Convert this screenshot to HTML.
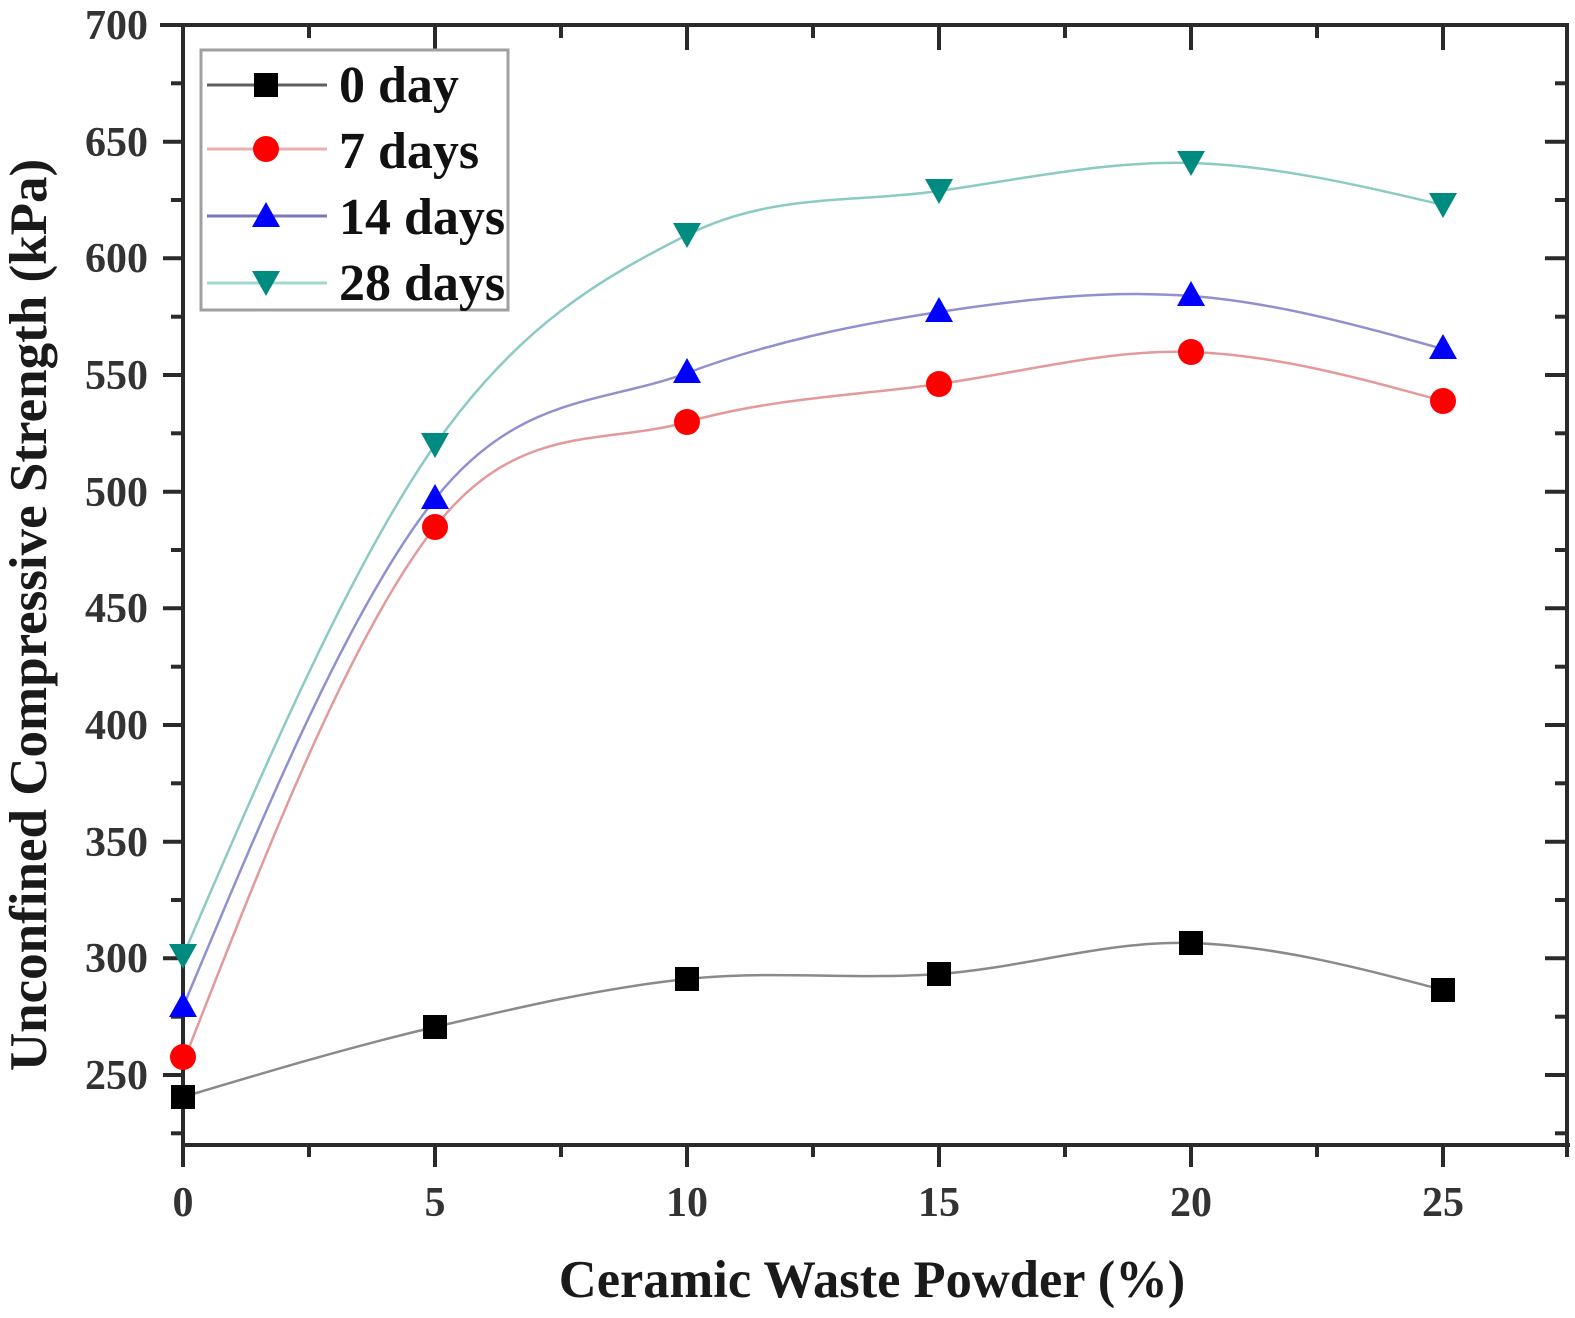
<!DOCTYPE html>
<html>
<head>
<meta charset="utf-8">
<style>
  html, body { margin: 0; padding: 0; background: #ffffff; }
  body { width: 1575px; height: 1318px; overflow: hidden; }
  svg { display: block; }
  text { font-family: "Liberation Serif", "Times New Roman", serif; font-weight: bold; }
</style>
</head>
<body>
<svg width="1575" height="1318" viewBox="0 0 1575 1318" xmlns="http://www.w3.org/2000/svg">
  <rect x="0" y="0" width="1575" height="1318" fill="#ffffff"/>

  <!-- Curves -->
  <g fill="none" stroke-width="2.5">
    <path stroke="#8a8a8a" d="M183,1097 C267,1071.8 351,1046.7 435,1027 C519,1007.3 603,987.8 687,979 C771,970.2 855,980 939,974 C1023,968 1107,940.3 1191,943 C1275,945.7 1359,967.8 1443,990"/>
    <path stroke="#e29a9a" d="M183,1063 C267,848.4 351,633.8 435,527 C519,420.2 603,445.8 687,422 C771,398.2 855,395.7 939,384 C1023,372.3 1107,349.2 1191,352 C1275,354.8 1359,377.9 1443,401"/>
    <path stroke="#9090d0" d="M183,1007 C267,805.8 351,604.7 435,499 C519,393.3 603,404.2 687,373 C771,341.8 855,324.8 939,312 C1023,299.2 1107,289.8 1191,296 C1275,302.2 1359,325.6 1443,349"/>
    <path stroke="#8ccac4" d="M183,956 C267,760.6 351,565.2 435,445 C519,324.8 603,277.3 687,235 C771,192.7 855,203 939,191 C1023,179 1107,160.7 1191,163 C1275,165.3 1359,185.2 1443,205"/>
  </g>

  <!-- Axes frame -->
  <g stroke="#2a2a2a" stroke-width="4" fill="none">
    <line x1="160" y1="25" x2="1568" y2="25"/>
    <line x1="183" y1="23" x2="183" y2="1167"/>
    <line x1="181" y1="1145" x2="1570" y2="1145"/>
    <line x1="1567" y1="23" x2="1567" y2="1157"/>
  </g>

  <!-- Left axis ticks (outward) -->
  <g stroke="#2a2a2a" stroke-width="4">
    <line x1="163" y1="1075" x2="183" y2="1075"/>
    <line x1="163" y1="958.3" x2="183" y2="958.3"/>
    <line x1="163" y1="841.7" x2="183" y2="841.7"/>
    <line x1="163" y1="725" x2="183" y2="725"/>
    <line x1="163" y1="608.3" x2="183" y2="608.3"/>
    <line x1="163" y1="491.7" x2="183" y2="491.7"/>
    <line x1="163" y1="375" x2="183" y2="375"/>
    <line x1="163" y1="258.3" x2="183" y2="258.3"/>
    <line x1="163" y1="141.7" x2="183" y2="141.7"/>
    <line x1="171" y1="1133.3" x2="183" y2="1133.3"/>
    <line x1="171" y1="1016.7" x2="183" y2="1016.7"/>
    <line x1="171" y1="900" x2="183" y2="900"/>
    <line x1="171" y1="783.3" x2="183" y2="783.3"/>
    <line x1="171" y1="666.7" x2="183" y2="666.7"/>
    <line x1="171" y1="550" x2="183" y2="550"/>
    <line x1="171" y1="433.3" x2="183" y2="433.3"/>
    <line x1="171" y1="316.7" x2="183" y2="316.7"/>
    <line x1="171" y1="200" x2="183" y2="200"/>
    <line x1="171" y1="83.3" x2="183" y2="83.3"/>
  </g>

  <!-- Right axis ticks (inward) -->
  <g stroke="#2a2a2a" stroke-width="4">
    <line x1="1545" y1="1075" x2="1567" y2="1075"/>
    <line x1="1545" y1="958.3" x2="1567" y2="958.3"/>
    <line x1="1545" y1="841.7" x2="1567" y2="841.7"/>
    <line x1="1545" y1="725" x2="1567" y2="725"/>
    <line x1="1545" y1="608.3" x2="1567" y2="608.3"/>
    <line x1="1545" y1="491.7" x2="1567" y2="491.7"/>
    <line x1="1545" y1="375" x2="1567" y2="375"/>
    <line x1="1545" y1="258.3" x2="1567" y2="258.3"/>
    <line x1="1545" y1="141.7" x2="1567" y2="141.7"/>
    <line x1="1555" y1="1133.3" x2="1567" y2="1133.3"/>
    <line x1="1555" y1="1016.7" x2="1567" y2="1016.7"/>
    <line x1="1555" y1="900" x2="1567" y2="900"/>
    <line x1="1555" y1="783.3" x2="1567" y2="783.3"/>
    <line x1="1555" y1="666.7" x2="1567" y2="666.7"/>
    <line x1="1555" y1="550" x2="1567" y2="550"/>
    <line x1="1555" y1="433.3" x2="1567" y2="433.3"/>
    <line x1="1555" y1="316.7" x2="1567" y2="316.7"/>
    <line x1="1555" y1="200" x2="1567" y2="200"/>
    <line x1="1555" y1="83.3" x2="1567" y2="83.3"/>
  </g>

  <!-- Bottom axis ticks (outward) -->
  <g stroke="#2a2a2a" stroke-width="4">
    <line x1="435" y1="1145" x2="435" y2="1167"/>
    <line x1="687" y1="1145" x2="687" y2="1167"/>
    <line x1="939" y1="1145" x2="939" y2="1167"/>
    <line x1="1191" y1="1145" x2="1191" y2="1167"/>
    <line x1="1443" y1="1145" x2="1443" y2="1167"/>
    <line x1="309" y1="1145" x2="309" y2="1157"/>
    <line x1="561" y1="1145" x2="561" y2="1157"/>
    <line x1="813" y1="1145" x2="813" y2="1157"/>
    <line x1="1065" y1="1145" x2="1065" y2="1157"/>
    <line x1="1317" y1="1145" x2="1317" y2="1157"/>
  </g>

  <!-- Top axis ticks (inward) -->
  <g stroke="#2a2a2a" stroke-width="4">
    <line x1="435" y1="25" x2="435" y2="50"/>
    <line x1="687" y1="25" x2="687" y2="50"/>
    <line x1="939" y1="25" x2="939" y2="50"/>
    <line x1="1191" y1="25" x2="1191" y2="50"/>
    <line x1="1443" y1="25" x2="1443" y2="50"/>
    <line x1="309" y1="25" x2="309" y2="38"/>
    <line x1="561" y1="25" x2="561" y2="38"/>
    <line x1="813" y1="25" x2="813" y2="38"/>
    <line x1="1065" y1="25" x2="1065" y2="38"/>
    <line x1="1317" y1="25" x2="1317" y2="38"/>
  </g>

  <!-- Y tick labels -->
  <g font-size="42" fill="#333" text-anchor="end">
    <text x="148" y="1089">250</text>
    <text x="148" y="972">300</text>
    <text x="148" y="856">350</text>
    <text x="148" y="739">400</text>
    <text x="148" y="622">450</text>
    <text x="148" y="506">500</text>
    <text x="148" y="389">550</text>
    <text x="148" y="272">600</text>
    <text x="148" y="156">650</text>
    <text x="148" y="39">700</text>
  </g>

  <!-- X tick labels -->
  <g font-size="42" fill="#333" text-anchor="middle">
    <text x="183" y="1216">0</text>
    <text x="435" y="1216">5</text>
    <text x="687" y="1216">10</text>
    <text x="939" y="1216">15</text>
    <text x="1191" y="1216">20</text>
    <text x="1443" y="1216">25</text>
  </g>

  <!-- Axis titles -->
  <text x="872" y="1297" font-size="52.5" fill="#1a1a1a" text-anchor="middle">Ceramic Waste Powder (%)</text>
  <text transform="translate(46,615) rotate(-90)" x="0" y="0" font-size="53" fill="#1a1a1a" text-anchor="middle">Unconfined Compressive Strength (kPa)</text>

  <!-- Markers: 0 day (squares) -->
  <g fill="#000">
    <rect x="171" y="1085" width="24" height="24"/>
    <rect x="423" y="1015" width="24" height="24"/>
    <rect x="675" y="967" width="24" height="24"/>
    <rect x="927" y="962" width="24" height="24"/>
    <rect x="1179" y="931" width="24" height="24"/>
    <rect x="1431" y="978" width="24" height="24"/>
  </g>
  <!-- 7 days (circles) -->
  <g fill="#ff0000">
    <circle cx="183" cy="1057" r="13"/>
    <circle cx="435" cy="527" r="13"/>
    <circle cx="687" cy="422" r="13"/>
    <circle cx="939" cy="384" r="13"/>
    <circle cx="1191" cy="352" r="13"/>
    <circle cx="1443" cy="401" r="13"/>
  </g>
  <!-- 14 days (up triangles) -->
  <g fill="#0000ff">
    <polygon points="183,992 197,1017 169,1017"/>
    <polygon points="435,484 449,509 421,509"/>
    <polygon points="687,358 701,383 673,383"/>
    <polygon points="939,297 953,322 925,322"/>
    <polygon points="1191,281 1205,306 1177,306"/>
    <polygon points="1443,334 1457,359 1429,359"/>
  </g>
  <!-- 28 days (down triangles) -->
  <g fill="#008b80">
    <polygon points="169,944 197,944 183,969"/>
    <polygon points="421,433 449,433 435,458"/>
    <polygon points="673,223 701,223 687,248"/>
    <polygon points="925,179 953,179 939,204"/>
    <polygon points="1177,151 1205,151 1191,176"/>
    <polygon points="1429,193 1457,193 1443,218"/>
  </g>

  <!-- Legend -->
  <rect x="201" y="50" width="307" height="260" fill="#ffffff" stroke="#a0a0a0" stroke-width="3"/>
  <g stroke-width="3">
    <line x1="207" y1="85" x2="327" y2="85" stroke="#606060"/>
    <line x1="207" y1="149" x2="327" y2="149" stroke="#e8b0b0"/>
    <line x1="207" y1="216" x2="327" y2="216" stroke="#7a7ab8"/>
    <line x1="207" y1="283" x2="327" y2="283" stroke="#a0d8d2"/>
  </g>
  <rect x="254" y="73" width="24" height="24" fill="#000"/>
  <circle cx="266" cy="149" r="13" fill="#ff0000"/>
  <polygon points="266,202 280,227 252,227" fill="#0000ff"/>
  <polygon points="252,271 280,271 266,296" fill="#008b80"/>
  <g font-size="52" fill="#111">
    <text x="339" y="102">0 day</text>
    <text x="339" y="168">7 days</text>
    <text x="339" y="234">14 days</text>
    <text x="339" y="300">28 days</text>
  </g>
</svg>
</body>
</html>
